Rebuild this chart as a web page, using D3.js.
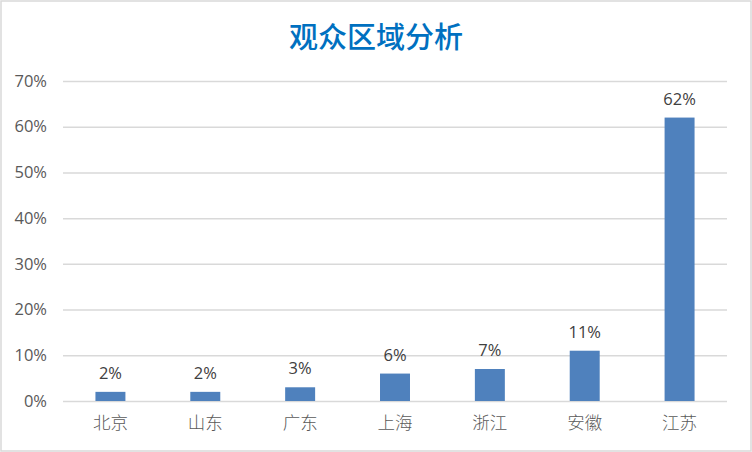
<!DOCTYPE html>
<html><head><meta charset="utf-8">
<script src="https://cdn.jsdelivr.net/npm/d3@7/dist/d3.min.js"></script>
<style>body{margin:0;background:#fff}</style>
</head><body>
<svg id="c" width="752" height="452"></svg>
<script>
const categories = ["北京","山东","广东","上海","浙江","安徽","江苏"];
const values = [2,2,3,6,7,11,62];
const yTicks = [0,10,20,30,40,50,60,70];
const title = "观众区域分析";

const svg = d3.select("#c");
svg.append("rect").attr("x",1).attr("y",1).attr("width",750).attr("height",450)
  .attr("fill","#fff").attr("stroke","#D9D9D9").attr("stroke-width",1.5);

const m = {l:63, r:727, t:81, b:401};
const x = d3.scaleBand().domain(categories).range([m.l, m.r]).paddingInner(0.684).paddingOuter(0.342);
const y = d3.scaleLinear().domain([0,70]).range([m.b, m.t]);

svg.append("text").attr("x",376).attr("y",48).attr("text-anchor","middle")
  .attr("font-family","'Noto Sans CJK SC'").attr("font-weight",500).attr("font-size",29)
  .attr("fill","#0070C0").text(title);

const yAxis = d3.axisLeft(y).tickValues(yTicks).tickFormat(d=>d+"%").tickSize(-(m.r-m.l)).tickPadding(16);
const gy = svg.append("g").attr("transform",`translate(${m.l},0)`).call(yAxis);
gy.select(".domain").remove();
gy.selectAll(".tick line").attr("stroke","#D9D9D9").attr("stroke-width",1.5);
gy.selectAll(".tick text").attr("fill","#595959").attr("font-family","'Open Sans', 'Liberation Sans', sans-serif").attr("font-size",16.5);

const xAxis = d3.axisBottom(x).tickSize(0).tickPadding(16);
const gx = svg.append("g").attr("transform",`translate(0,${m.b})`).call(xAxis);
gx.select(".domain").remove();
gx.selectAll(".tick text").attr("fill","#595959").attr("font-family","'Noto Sans CJK SC'").attr("font-weight",300).attr("font-size",17.5);

const data = categories.map((c,i)=>({c, v:values[i]}));
svg.append("g").selectAll("rect").data(data).join("rect")
  .attr("x",d=>x(d.c)).attr("width",x.bandwidth())
  .attr("y",d=>y(d.v)).attr("height",d=>y(0)-y(d.v))
  .attr("fill","#4F81BD");

svg.append("g").selectAll("text").data(data).join("text")
  .attr("x",d=>x(d.c)+x.bandwidth()/2).attr("y",d=>y(d.v)-13)
  .attr("text-anchor","middle").attr("fill","#404040")
  .attr("font-family","'Open Sans', 'Liberation Sans', sans-serif").attr("font-size",16.5)
  .text(d=>d.v+"%");
</script>
</body></html>
